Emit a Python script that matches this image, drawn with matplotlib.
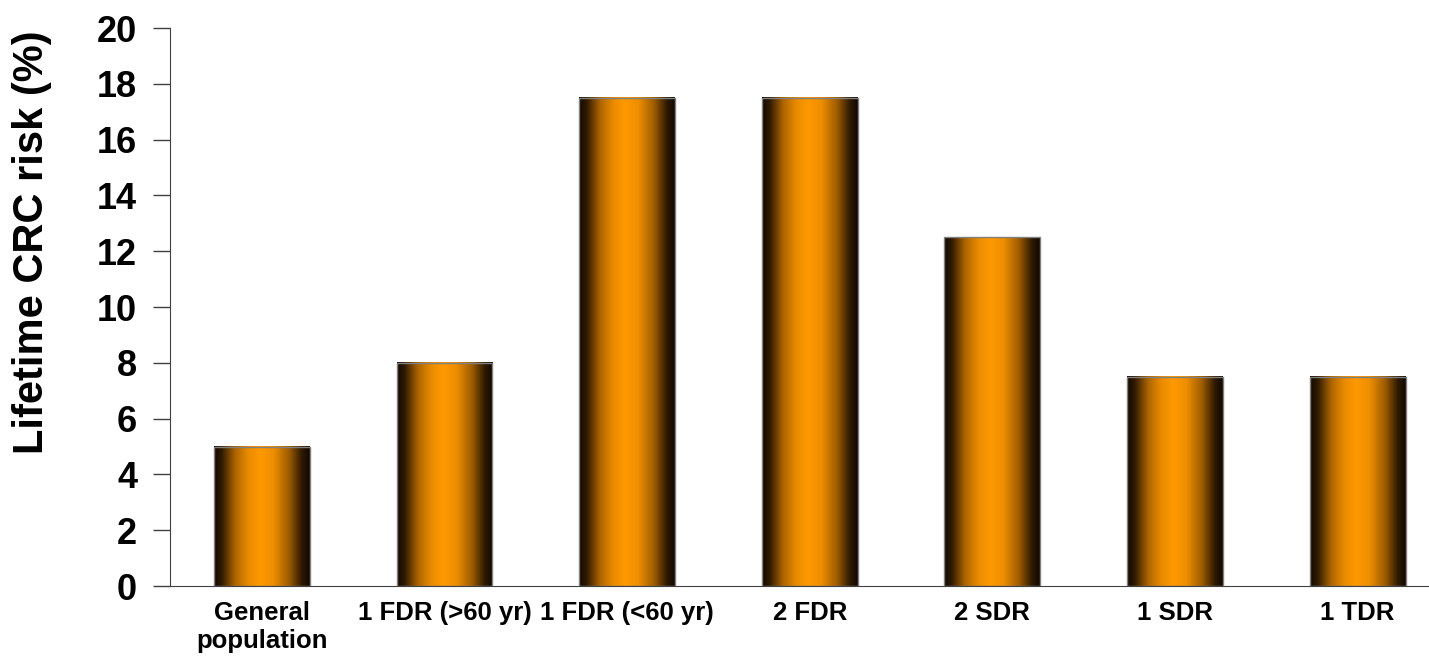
import numpy as np
import matplotlib
matplotlib.use('Agg')
import matplotlib.pyplot as plt
from matplotlib.colors import LinearSegmentedColormap

categories = ['General\npopulation', '1 FDR (>60 yr)', '1 FDR (<60 yr)', '2 FDR',
              '2 SDR', '1 SDR', '1 TDR']
risk = [5, 8, 17.5, 17.5, 12.5, 7.5, 7.5]

plt.rcParams['font.family'] = ['Liberation Sans', 'DejaVu Sans']
plt.rcParams['font.weight'] = 'bold'

# dark edge -> orange middle -> dark edge, like the cylinder shading
cmap = LinearSegmentedColormap.from_list('cyl', [
    (0.0, '#120900'), (0.08, '#301b00'), (0.22, '#ad6500'), (0.36, '#ea8c00'),
    (0.48, '#ff9900'), (0.62, '#ee8e00'), (0.78, '#a05d00'), (0.92, '#2c1900'),
    (1.0, '#120900')])
grad = np.linspace(0, 1, 256).reshape(1, -1)

fig = plt.figure(figsize=(14.29, 6.58), dpi=100)
ax = fig.add_axes([0.1193, 0.1094, 0.8947, 0.848])

x = np.arange(len(categories))
w = 0.525
bars = ax.bar(x, risk, width=w, facecolor='none', edgecolor='#808080', linewidth=1, zorder=3)
for b in bars:
    x0 = b.get_x()
    ax.imshow(grad, cmap=cmap, aspect='auto', interpolation='bicubic',
              extent=(x0, x0 + b.get_width(), 0, b.get_height()), zorder=2)

ax.set_xlim(-0.5, 6.5)
ax.set_ylim(0, 20)
ax.set_yticks(np.arange(0, 21, 2))
ax.set_xticks(x)
ax.set_xticklabels(categories, fontsize=18.5, fontweight='bold', linespacing=1.2)
ax.tick_params(axis='x', length=0, pad=11)
ax.tick_params(axis='y', length=12, width=1, labelsize=26, pad=12, colors='#404040',
               labelcolor='black')
for t in ax.get_yticklabels():
    t.set_fontweight('bold')
ax.set_ylabel('Lifetime CRC risk (%)', fontsize=30, fontweight='bold')
ax.yaxis.set_label_coords(-0.093, 0.616)

ax.spines['top'].set_visible(False)
ax.spines['right'].set_visible(False)
ax.spines['left'].set_color('#404040')
ax.spines['bottom'].set_color('#404040')

fig.savefig('out.png', dpi=100)
plt.close('all')
